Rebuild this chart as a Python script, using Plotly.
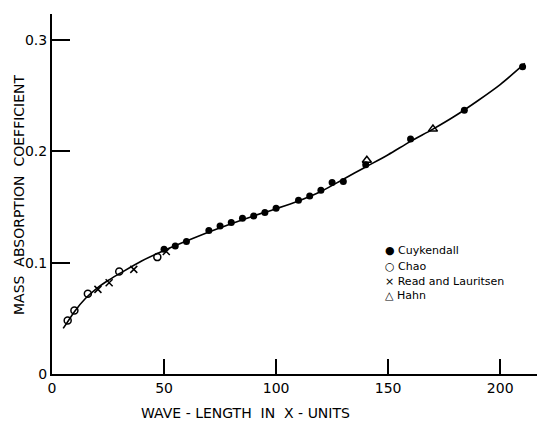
import plotly.graph_objects as go

# Cuykendall (filled circles)
cuy_x = [50, 55, 60, 70, 75, 80, 85, 90, 95, 100, 110, 115, 120, 125, 130, 140, 160, 184, 210]
cuy_y = [0.112, 0.115, 0.119, 0.129, 0.133, 0.136, 0.140, 0.142, 0.145, 0.149, 0.156, 0.160, 0.165, 0.172, 0.173, 0.188, 0.211, 0.237, 0.276]

# Chao (open circles)
chao_x = [7, 10, 16, 30, 47]
chao_y = [0.048, 0.057, 0.072, 0.092, 0.105]

# Read and Lauritsen (crosses)
rl_x = [20.5, 25.5, 36.5, 51]
rl_y = [0.076, 0.082, 0.094, 0.110]

# Hahn (open triangles)
hahn_x = [140.5, 170]
hahn_y = [0.192, 0.220]

# Smooth fitted curve
curve_x = [5, 7, 10, 15, 20, 25, 30, 40, 50, 60, 70, 80, 90, 100, 110, 120, 130, 140, 150, 160, 170, 180, 190, 200, 211]
curve_y = [0.041, 0.047, 0.056, 0.068, 0.077, 0.084, 0.090, 0.1015, 0.111, 0.1195, 0.1275, 0.135, 0.142, 0.1485, 0.1555, 0.164, 0.175, 0.186, 0.197, 0.209, 0.220, 0.232, 0.2455, 0.260, 0.279]

x_ticks = [0, 50, 100, 150, 200]
y_ticks = [0, 0.1, 0.2, 0.3]
y_tick_text = ["0", "0.1", "0.2", "0.3"]

series_names = ["Cuykendall", "Chao", "Read and Lauritsen", "Hahn"]
legend_symbols = ["\u25CF", "\u25CB", "\u00D7", "\u25B3"]

FONT = "DejaVu Sans"

fig = go.Figure()
fig.add_trace(go.Scatter(x=curve_x, y=curve_y, mode="lines",
                         line=dict(color="black", width=1.6, shape="spline", smoothing=0.8),
                         showlegend=False, hoverinfo="skip"))
fig.add_trace(go.Scatter(x=cuy_x, y=cuy_y, mode="markers", name=series_names[0],
                         marker=dict(symbol="circle", size=7, color="black")))
fig.add_trace(go.Scatter(x=chao_x, y=chao_y, mode="markers", name=series_names[1],
                         marker=dict(symbol="circle-open", size=7, color="black", line=dict(width=1.5))))
fig.add_trace(go.Scatter(x=rl_x, y=rl_y, mode="markers", name=series_names[2],
                         marker=dict(symbol="x-thin-open", size=7, color="black", line=dict(width=1.5))))
fig.add_trace(go.Scatter(x=hahn_x, y=hahn_y, mode="markers", name=series_names[3],
                         marker=dict(symbol="triangle-up-open", size=8, color="black", line=dict(width=1.5))))

annotations = []
legend_y = [0.342, 0.300, 0.258, 0.219]
for sym, name, ly in zip(legend_symbols, series_names, legend_y):
    annotations.append(dict(xref="paper", yref="paper", x=0.672, y=ly, xanchor="left", yanchor="middle",
                            text=f"{sym} {name}", showarrow=False,
                            font=dict(family=FONT, size=11, color="black")))

annotations.append(dict(xref="paper", yref="paper", x=0.3935, y=-0.108, xanchor="center", yanchor="middle",
                        text="WAVE - LENGTH  IN  X - UNITS", showarrow=False,
                        font=dict(family=FONT, size=14, color="black")))
annotations.append(dict(xref="paper", yref="paper", x=-0.067, y=0.5, xanchor="center", yanchor="middle",
                        text="MASS  ABSORPTION  COEFFICIENT", showarrow=False, textangle=-90,
                        font=dict(family=FONT, size=14, color="black")))

fig.update_layout(
    width=537, height=414,
    margin=dict(l=44, r=0, t=6, b=48),
    paper_bgcolor="white", plot_bgcolor="white",
    font=dict(family=FONT, color="black"),
    showlegend=False,
    annotations=annotations,
    xaxis=dict(range=[0, 220], tickvals=x_ticks, ticks="inside", ticklen=15, tickwidth=2,
               tickcolor="black", showline=True, linecolor="black", linewidth=2,
               showgrid=False, zeroline=False, tickfont=dict(size=14)),
    yaxis=dict(range=[0, 0.3234], tickvals=y_ticks, ticktext=y_tick_text, ticks="inside",
               ticklen=18, tickwidth=2, tickcolor="black", showline=True, linecolor="black",
               linewidth=2, showgrid=False, zeroline=False, tickfont=dict(size=14)),
)

fig.write_html("out.html")
